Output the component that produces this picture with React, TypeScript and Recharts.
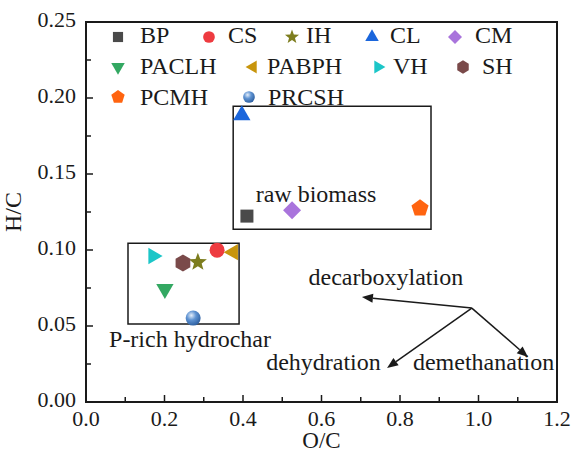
import React from "react";
import {
  ScatterChart, Scatter, XAxis, YAxis, ReferenceArea, ReferenceLine, ReferenceDot
} from "recharts";

// samples, O/C and H/C
const names = ["BP", "CS", "IH", "CL", "CM", "PACLH", "PABPH", "VH", "SH", "PCMH", "PRCSH"];
const ocValues = [0.41, 0.334, 0.285, 0.397, 0.525, 0.201, 0.375, 0.171, 0.247, 0.851, 0.273];
const hcValues = [0.1223, 0.0999, 0.092, 0.1887, 0.1262, 0.0743, 0.0986, 0.096, 0.0914, 0.1275, 0.0552];
const colors = ["#4a4a4a", "#ee3b40", "#7d7d1e", "#1b66dc", "#a974dc", "#33a862", "#c8950c", "#1cc6c8", "#7a4a4a", "#ff6410", "#5f93d2"];
const kinds = ["square", "circle", "star", "up", "diamond", "down", "left", "right", "hexagon", "pentagon", "sphere"];

const xTicks = [0, 0.1, 0.2, 0.3, 0.4, 0.5, 0.6, 0.7, 0.8, 0.9, 1.0, 1.1, 1.2];
const yTicks = [0, 0.025, 0.05, 0.075, 0.1, 0.125, 0.15, 0.175, 0.2, 0.225, 0.25];

// boxes [x1, x2, y1, y2]
const rawBox = [0.375, 0.879, 0.1137, 0.1946];
const pBox = [0.107, 0.39, 0.0513, 0.1045];

// arrows
const arrowFrom = [0.983, 0.0618];
const arrowTo = [[0.703, 0.069], [0.767, 0.0224], [1.126, 0.0296]];

// annotation texts [label, x, y(baseline)]
const notes: [string, number, number][] = [
  ["raw biomass", 0.586, 0.1315],
  ["P-rich hydrochar", 0.265, 0.0362],
  ["decarboxylation", 0.764, 0.0769],
  ["dehydration", 0.605, 0.021],
  ["demethanation", 1.013, 0.021],
];

// legend layout: [symbolX, textX, row]
const legendPos = [
  [118, 140, 0], [209, 228, 0], [292, 306, 0], [372, 390, 0], [455, 475, 0],
  [118, 140, 1], [253, 267, 1], [378, 393, 1], [463, 482, 1],
  [118, 140, 2], [249, 268, 2],
];
const rowSymY = [37, 67, 97];
const rowTextY = [43, 74, 105];

const INK = "#1a1a1a";
const txt = (size: number) => ({ fontFamily: '"Liberation Serif"', fontSize: size });

function poly(n: number, r: number, cx: number, cy: number, start: number) {
  const pts: string[] = [];
  for (let i = 0; i < n; i++) {
    const a = ((start + (i * 360) / n) * Math.PI) / 180;
    pts.push(`${cx + r * Math.cos(a)},${cy + r * Math.sin(a)}`);
  }
  return pts.join(" ");
}

function star(r: number, cx: number, cy: number) {
  const pts: string[] = [];
  for (let i = 0; i < 10; i++) {
    const rr = i % 2 === 0 ? r : r * 0.42;
    const a = ((-90 + i * 36) * Math.PI) / 180;
    pts.push(`${cx + rr * Math.cos(a)},${cy + rr * Math.sin(a)}`);
  }
  return pts.join(" ");
}

function drawSymbol(kind: string, cx: number, cy: number, k: number, color: string, id: string) {
  switch (kind) {
    case "square":
      return <rect x={cx - 6.5 * k} y={cy - 6.5 * k} width={13 * k} height={13 * k} fill={color} />;
    case "circle":
      return <circle cx={cx} cy={cy} r={7.5 * k} fill={color} />;
    case "star":
      return <polygon points={star(9.5 * k, cx, cy)} fill={color} />;
    case "up":
      return <polygon points={poly(3, 10 * k, cx, cy, -90)} fill={color} />;
    case "down":
      return <polygon points={poly(3, 10 * k, cx, cy, 90)} fill={color} />;
    case "left":
      return <polygon points={poly(3, 9.5 * k, cx, cy, 180)} fill={color} />;
    case "right":
      return <polygon points={poly(3, 9.5 * k, cx, cy, 0)} fill={color} />;
    case "diamond":
      return <polygon points={poly(4, 9 * k, cx, cy, -90)} fill={color} />;
    case "hexagon":
      return <polygon points={poly(6, 8.5 * k, cx, cy, -90)} fill={color} />;
    case "pentagon":
      return <polygon points={poly(5, 9 * k, cx, cy, -90)} fill={color} />;
    default:
      return (
        <g>
          <defs>
            <radialGradient id={id} cx="0.38" cy="0.32" r="0.7">
              <stop offset="0" stopColor="#e4eefa" />
              <stop offset="0.45" stopColor={color} />
              <stop offset="1" stopColor="#2d5fa0" />
            </radialGradient>
          </defs>
          <circle cx={cx} cy={cy} r={7.5 * k} fill={`url(#${id})`} />
        </g>
      );
  }
}

const XTick = (props: any) => {
  const { x, y, payload } = props;
  const v = payload.value;
  const major = Math.round(v * 10) % 2 === 0;
  return (
    <g>
      <line x1={x} x2={x} y1={y} y2={y - (major ? 7 : 5)} stroke={INK} strokeWidth={1.5} />
      {major && (
        <text x={x} y={y + 24} textAnchor="middle" style={txt(22)} fill={INK}>
          {v.toFixed(1)}
        </text>
      )}
    </g>
  );
};

const YTick = (props: any) => {
  const { x, y, payload } = props;
  const v = payload.value;
  const major = Math.round(v * 40) % 2 === 0;
  return (
    <g>
      <line x1={x} x2={x + (major ? 7 : 5)} y1={y} y2={y} stroke={INK} strokeWidth={1.5} />
      {major && (
        <text x={x - 10} y={y + 5} textAnchor="end" style={txt(22)} fill={INK}>
          {v.toFixed(2)}
        </text>
      )}
    </g>
  );
};

const Arrow = (props: any) => {
  const { x1, y1, x2, y2 } = props;
  const dx = x2 - x1;
  const dy = y2 - y1;
  const len = Math.sqrt(dx * dx + dy * dy);
  const ux = dx / len;
  const uy = dy / len;
  const hl = 11;
  const hw = 4.5;
  const bx = x2 - ux * hl;
  const by = y2 - uy * hl;
  return (
    <g>
      <line x1={x1} y1={y1} x2={bx} y2={by} stroke={INK} strokeWidth={1.5} />
      <polygon
        points={`${x2},${y2} ${bx - uy * hw},${by + ux * hw} ${bx + uy * hw},${by - ux * hw}`}
        fill={INK}
      />
    </g>
  );
};

export default function App() {
  return (
    <div style={{ position: "absolute", left: 0, top: 0, width: 574, height: 452, background: "#fff" }}>
      <ScatterChart width={574} height={452} margin={{ top: 22, right: 17, left: 0, bottom: 0 }}>
        <XAxis
          type="number"
          dataKey="x"
          domain={[0, 1.2]}
          ticks={xTicks}
          interval={0}
          tick={<XTick />}
          tickLine={false}
          tickSize={0}
          tickMargin={0}
          height={50}
          axisLine={{ stroke: INK, strokeWidth: 2 }}
          label={(p: any) => {
            const vb = p.viewBox;
            return (
              <text x={vb.x + vb.width / 2} y={448} textAnchor="middle" style={txt(23)} fill={INK}>
                O/C
              </text>
            );
          }}
        />
        <YAxis
          type="number"
          dataKey="y"
          domain={[0, 0.25]}
          ticks={yTicks}
          interval={0}
          tick={<YTick />}
          tickLine={false}
          tickSize={0}
          tickMargin={0}
          width={86}
          axisLine={{ stroke: INK, strokeWidth: 2 }}
          label={(p: any) => {
            const vb = p.viewBox;
            const cy = vb.y + vb.height / 2;
            return (
              <text x={21} y={cy} transform={`rotate(-90 21 ${cy})`} textAnchor="middle" style={txt(24)} fill={INK}>
                H/C
              </text>
            );
          }}
        />
        <ReferenceArea x1={0} x2={1.2} y1={0} y2={0.25} fill="none" stroke={INK} strokeWidth={2} />
        <ReferenceArea x1={rawBox[0]} x2={rawBox[1]} y1={rawBox[2]} y2={rawBox[3]} fill="none" stroke={INK} strokeWidth={1.5} />
        <ReferenceArea x1={pBox[0]} x2={pBox[1]} y1={pBox[2]} y2={pBox[3]} fill="none" stroke={INK} strokeWidth={1.5} />
        {arrowTo.map((t, i) => (
          <ReferenceLine
            key={"a" + i}
            segment={[{ x: arrowFrom[0], y: arrowFrom[1] }, { x: t[0], y: t[1] }]}
            shape={(p: any) => <Arrow {...p} />}
          />
        ))}
        {notes.map((n, i) => (
          <ReferenceDot
            key={"n" + i}
            x={n[1]}
            y={n[2]}
            r={0}
            shape={(p: any) => (
              <text x={p.cx} y={p.cy} textAnchor="middle" style={txt(24)} fill={INK}>
                {n[0]}
              </text>
            )}
          />
        ))}
        {names.map((nm, i) => (
          <Scatter
            key={nm}
            name={nm}
            data={[{ x: ocValues[i], y: hcValues[i] }]}
            isAnimationActive={false}
            shape={(p: any) => drawSymbol(kinds[i], p.cx, p.cy, 1, colors[i], "sp" + i)}
          />
        ))}
      </ScatterChart>
      <svg width={574} height={120} style={{ position: "absolute", left: 0, top: 0, pointerEvents: "none" }}>
        {names.map((nm, i) => {
          const [sx, tx, row] = legendPos[i];
          return (
            <g key={nm}>
              {drawSymbol(kinds[i], sx, rowSymY[row], 0.78, colors[i], "lg" + i)}
              <text x={tx} y={rowTextY[row]} style={txt(24)} fill={INK}>
                {nm}
              </text>
            </g>
          );
        })}
      </svg>
    </div>
  );
}
